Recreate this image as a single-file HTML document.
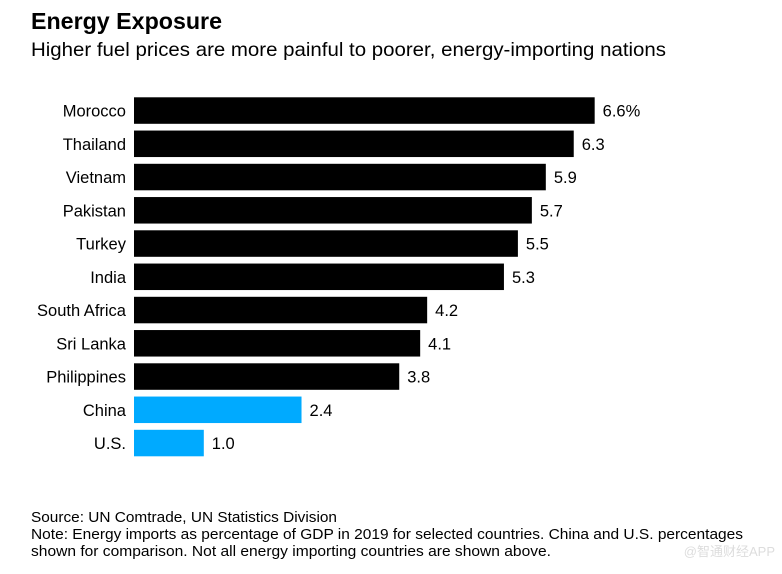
<!DOCTYPE html>
<html><head><meta charset="utf-8"><style>
body{margin:0;background:#fff;width:782px;height:569px;overflow:hidden;font-family:"Liberation Sans",Arial,sans-serif;}
svg text{font-family:"Liberation Sans",Arial,sans-serif;}
</style></head><body>
<svg width="782" height="569">
<text x="31" y="29" font-size="23" font-weight="bold" fill="#000" textLength="191" lengthAdjust="spacingAndGlyphs">Energy Exposure</text>
<text x="31" y="56" font-size="19.5" fill="#000" textLength="635" lengthAdjust="spacingAndGlyphs">Higher fuel prices are more painful to poorer, energy-importing nations</text>
<g id="bars"></g>
<text x="31" y="522" font-size="14.5" fill="#000" textLength="306" lengthAdjust="spacingAndGlyphs">Source: UN Comtrade, UN Statistics Division</text>
<text x="31" y="539" font-size="14.5" fill="#000" textLength="712" lengthAdjust="spacingAndGlyphs">Note: Energy imports as percentage of GDP in 2019 for selected countries. China and U.S. percentages</text>
<text x="31" y="556" font-size="14.5" fill="#000" textLength="520" lengthAdjust="spacingAndGlyphs">shown for comparison. Not all energy importing countries are shown above.</text>
<text x="775" y="556" font-size="13" fill="#ddd" text-anchor="end" font-family="Liberation Sans, Noto Sans CJK SC, sans-serif">@智通财经APP</text>
</svg>
<script>
const categories=["Morocco","Thailand","Vietnam","Pakistan","Turkey","India","South Africa","Sri Lanka","Philippines","China","U.S."];
const values=[6.6,6.3,5.9,5.7,5.5,5.3,4.2,4.1,3.8,2.4,1.0];
const valueLabels=["6.6%","6.3","5.9","5.7","5.5","5.3","4.2","4.1","3.8","2.4","1.0"];
const highlighted=["China","U.S."];
const NS="http://www.w3.org/2000/svg";
const x0=134, pxPerUnit=69.8, y0=97.3, pitch=33.25, bh=26.5;
const xs=v=>x0+v*pxPerUnit;
const ys=i=>y0+i*pitch;
const g=document.getElementById('bars');
categories.forEach((c,i)=>{
  const r=document.createElementNS(NS,'rect');
  r.setAttribute('x',x0);r.setAttribute('y',ys(i));
  r.setAttribute('width',xs(values[i])-x0);r.setAttribute('height',bh);
  r.setAttribute('fill',highlighted.includes(c)?'#00aaff':'#000');
  
  
  g.appendChild(r);
  const t=document.createElementNS(NS,'text');
  t.setAttribute('x',126);t.setAttribute('y',ys(i)+bh/2+6);
  t.setAttribute('text-anchor','end');t.setAttribute('font-size','16.5');
  t.textContent=c;
  
  
  g.appendChild(t);
  const v=document.createElementNS(NS,'text');
  v.setAttribute('x',xs(values[i])+8);v.setAttribute('y',ys(i)+bh/2+6);
  v.setAttribute('font-size','16.5');
  v.textContent=valueLabels[i];
  
  
  g.appendChild(v);
});
</script>
</body></html>
